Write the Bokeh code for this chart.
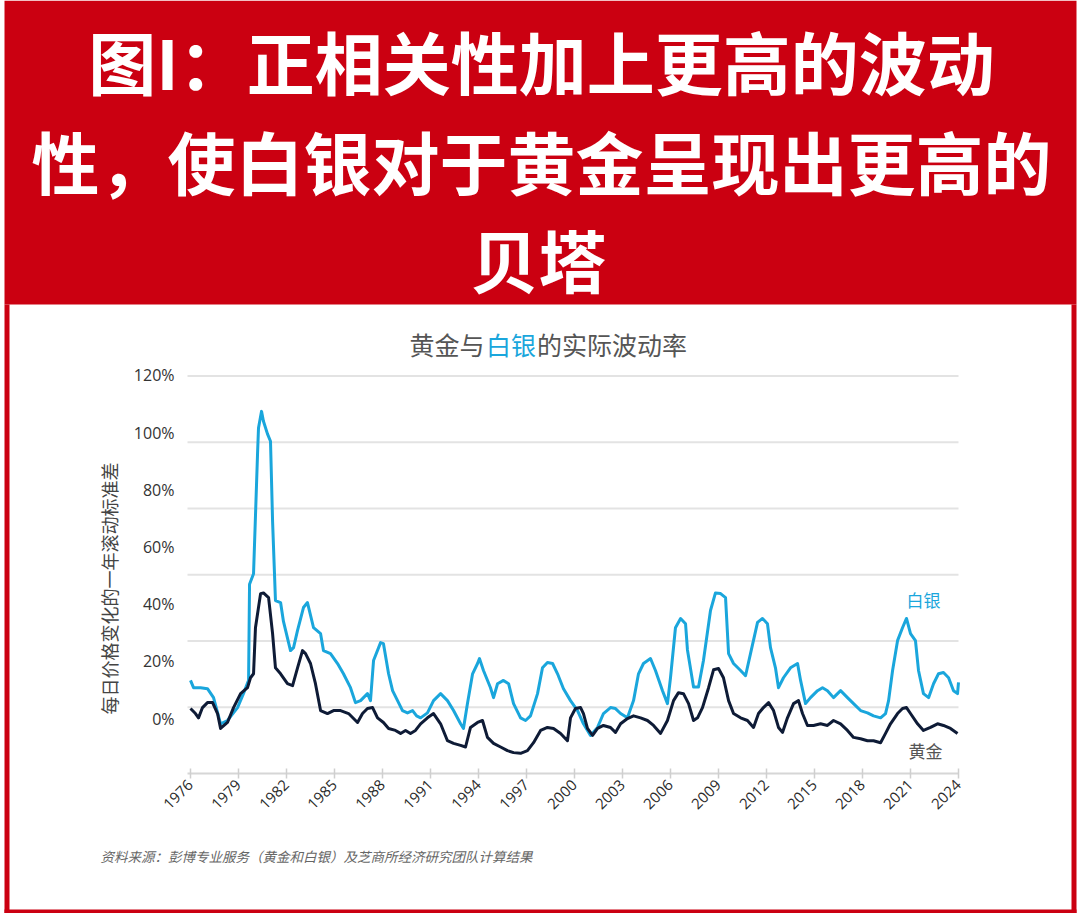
import math
from bokeh.plotting import figure
from bokeh.models import Label, FixedTicker, Range1d, LinearAxis, BoxAnnotation
from bokeh.embed import file_html
from bokeh.resources import INLINE

# ---------------- data ----------------
banner_lines = ["图I：正相关性加上更高的波动", "性，使白银对于黄金呈现出更高的", "贝塔"]
title_parts = ["黄金与", "白银", "的实际波动率"]
y_label = "每日价格变化的一年滚动标准差"
source_note = "资料来源：彭博专业服务（黄金和白银）及芝商所经济研究团队计算结果"
series_names = ["白银", "黄金"]

y_tick_labels = ["0%", "20%", "40%", "60%", "80%", "100%", "120%"]
grid_values = [20, 40, 60, 80, 100, 120]
x_ticks = list(range(1976, 2025, 3))

silver_year = [1976.00, 1976.19, 1976.63, 1977.06, 1977.44, 1977.88, 1978.31, 1978.94, 1979.31, 1979.63,
               1979.69, 1979.94, 1980.19, 1980.25, 1980.44, 1980.56, 1980.81, 1981.00, 1981.13, 1981.31,
               1981.63, 1981.81, 1982.25, 1982.44, 1982.69, 1983.06, 1983.31, 1983.69, 1984.13, 1984.31,
               1984.75, 1985.19, 1985.56, 1986.00, 1986.31, 1986.63, 1987.06, 1987.25, 1987.44, 1987.88,
               1988.06, 1988.38, 1988.63, 1988.94, 1989.25, 1989.56, 1989.88, 1990.13, 1990.38, 1990.81,
               1991.19, 1991.63, 1992.06, 1992.44, 1992.88, 1993.06, 1993.31, 1993.63, 1993.94, 1994.06,
               1994.31, 1994.75, 1994.94, 1995.19, 1995.56, 1995.88, 1996.19, 1996.63, 1996.94, 1997.25,
               1997.69, 1998.00, 1998.31, 1998.63, 1998.94, 1999.31, 1999.75, 2000.19, 2000.56, 2001.00,
               2001.44, 2001.81, 2002.25, 2002.56, 2002.88, 2003.31, 2003.69, 2004.00, 2004.31, 2004.75,
               2005.06, 2005.50, 2005.81, 2006.00, 2006.31, 2006.63, 2006.94, 2007.06, 2007.44, 2007.75,
               2008.06, 2008.50, 2008.81, 2009.13, 2009.44, 2009.63, 2009.94, 2010.38, 2010.69, 2011.00,
               2011.44, 2011.75, 2012.06, 2012.25, 2012.56, 2012.75, 2013.06, 2013.50, 2013.94, 2014.13,
               2014.44, 2014.75, 2015.19, 2015.50, 2015.81, 2016.19, 2016.63, 2017.06, 2017.44, 2017.88,
               2018.31, 2018.69, 2019.13, 2019.44, 2019.63, 2019.88, 2020.19, 2020.50, 2020.75, 2021.00,
               2021.31, 2021.50, 2021.81, 2022.13, 2022.44, 2022.75, 2023.06, 2023.38, 2023.69, 2023.94,
               2024.00]
silver_vol = [28.1, 25.9, 25.9, 25.6, 22.9, 15.0, 16.0, 19.9, 24.1, 28.1,
              57.1, 60.3, 96.5, 104.3, 109.3, 106.3, 102.5, 100.3, 76.1, 52.2,
              51.6, 45.9, 37.1, 38.0, 43.2, 50.1, 51.6, 44.0, 42.2, 37.1,
              36.2, 33.2, 30.1, 25.9, 21.4, 22.0, 24.1, 22.0, 34.1, 39.5,
              39.2, 30.1, 25.0, 22.0, 19.0, 18.3, 19.0, 17.4, 16.8, 18.3,
              22.0, 24.1, 22.0, 19.0, 15.0, 13.6, 21.1, 30.1, 33.2, 34.7,
              31.1, 25.9, 22.9, 27.1, 28.1, 27.1, 21.1, 16.8, 16.0, 17.4,
              24.1, 31.9, 33.5, 33.2, 30.1, 25.6, 22.0, 19.0, 15.0, 11.5,
              13.9, 18.1, 19.9, 19.6, 18.1, 16.8, 22.0, 30.1, 33.2, 34.7,
              31.1, 25.0, 21.1, 28.9, 44.0, 46.8, 45.2, 37.3, 26.1, 26.1,
              34.1, 49.2, 54.5, 54.3, 53.1, 36.2, 33.2, 31.1, 29.5, 36.2,
              45.6, 46.8, 45.2, 38.0, 31.9, 25.9, 28.9, 31.9, 33.2, 28.1,
              21.1, 22.9, 25.0, 25.9, 25.0, 22.9, 25.0, 22.9, 21.1, 19.0,
              18.3, 17.4, 16.8, 18.1, 22.0, 31.1, 40.1, 44.0, 46.8, 42.2,
              40.1, 31.1, 24.1, 22.9, 27.1, 30.1, 30.5, 28.9, 25.0, 24.1,
              27.5]

gold_year = [1976.00, 1976.31, 1976.50, 1976.75, 1977.06, 1977.38, 1977.69, 1977.88, 1978.31, 1978.69,
             1979.13, 1979.56, 1979.75, 1979.94, 1980.06, 1980.38, 1980.56, 1980.88, 1981.13, 1981.31,
             1981.63, 1982.06, 1982.38, 1982.69, 1983.00, 1983.19, 1983.50, 1983.81, 1984.13, 1984.56,
             1984.94, 1985.38, 1985.88, 1986.44, 1986.75, 1987.06, 1987.38, 1987.69, 1988.06, 1988.38,
             1988.81, 1989.13, 1989.44, 1989.75, 1990.06, 1990.38, 1990.81, 1991.19, 1991.63, 1992.06,
             1992.44, 1992.88, 1993.19, 1993.50, 1993.94, 1994.25, 1994.56, 1994.94, 1995.38, 1995.81,
             1996.19, 1996.63, 1997.06, 1997.44, 1997.88, 1998.31, 1998.69, 1999.13, 1999.56, 1999.75,
             2000.06, 2000.38, 2000.56, 2000.81, 2001.13, 2001.44, 2001.81, 2002.25, 2002.56, 2002.88,
             2003.31, 2003.69, 2004.13, 2004.56, 2004.94, 2005.38, 2005.81, 2006.19, 2006.50, 2006.81,
             2007.13, 2007.44, 2007.69, 2008.00, 2008.38, 2008.69, 2009.00, 2009.31, 2009.63, 2009.94,
             2010.38, 2010.81, 2011.19, 2011.50, 2011.81, 2012.13, 2012.44, 2012.75, 2013.00, 2013.31,
             2013.69, 2014.00, 2014.25, 2014.56, 2014.94, 2015.38, 2015.81, 2016.19, 2016.63, 2017.06,
             2017.44, 2017.88, 2018.31, 2018.69, 2019.13, 2019.44, 2019.75, 2020.19, 2020.50, 2020.75,
             2021.00, 2021.44, 2021.81, 2022.25, 2022.69, 2023.06, 2023.50, 2023.94]
gold_vol = [19.6, 18.1, 16.8, 19.9, 21.4, 21.4, 18.1, 13.6, 15.4, 19.9,
            24.1, 25.9, 28.9, 30.1, 44.0, 54.3, 54.5, 53.1, 42.2, 31.9,
            30.1, 27.1, 26.5, 31.9, 37.1, 36.2, 33.2, 27.1, 19.0, 18.1,
            19.0, 19.0, 18.1, 15.4, 18.1, 19.6, 19.9, 16.8, 15.4, 13.6,
            13.0, 12.1, 13.0, 12.1, 13.0, 15.0, 16.8, 18.1, 15.0, 9.9,
            9.1, 8.5, 8.0, 13.9, 15.4, 16.0, 10.9, 9.1, 8.0, 6.9,
            6.3, 6.1, 6.9, 9.3, 13.0, 13.9, 13.6, 12.1, 9.9, 16.8,
            19.6, 19.9, 18.1, 13.6, 11.5, 13.6, 14.5, 13.9, 12.4, 15.0,
            16.6, 17.4, 16.8, 16.0, 14.5, 12.1, 16.0, 22.0, 24.4, 24.1,
            21.1, 16.0, 16.8, 19.9, 25.9, 31.3, 31.7, 28.9, 22.0, 18.1,
            16.8, 16.0, 13.9, 18.1, 19.9, 21.4, 19.0, 13.9, 12.4, 16.8,
            21.1, 22.0, 18.1, 14.5, 14.5, 15.0, 14.5, 16.0, 15.0, 13.0,
            10.9, 10.5, 9.9, 9.9, 9.3, 12.1, 15.0, 18.1, 19.6, 19.9,
            18.1, 15.0, 13.0, 13.9, 15.0, 14.5, 13.6, 12.1]

# ---------------- layout geometry (reference pixels) ----------------
X_1976, PX_PER_YEAR = 190.0, 16.0      # x pixel of 1976 and pixels per year
Y_ZERO, PX_PER_PCT = 773.0, 3.313      # y pixel of 0 % and pixels per percent
W, H = 1078, 913


def yr(px):
    return 1976 + (px - X_1976) / PX_PER_YEAR


def pct(py):
    return (Y_ZERO - py) / PX_PER_PCT


# y tick labels sit on their own evenly spaced rows (as in the reference)
label_top_px, label_bottom_px = 375.0, 718.0
y_label_pos = [round(pct(label_bottom_px - i * (label_bottom_px - label_top_px) / 6), 3)
               for i in range(len(y_tick_labels))]

RED = "#CB0011"
SILVER = "#1AA6DC"
GOLD = "#0E1B36"
CJK = "Noto Sans CJK SC"

p = figure(width=W, height=H,
           x_range=Range1d(yr(0), yr(W)), y_range=Range1d(pct(H), pct(0)),
           toolbar_location=None, output_backend="svg", title=None, min_border=0,
           x_axis_location=None, y_axis_location=None,
           background_fill_color="white", border_fill_color="white", outline_line_color=None)
p.grid.visible = False

# red banner and frame
for kw in [dict(left=yr(4), right=yr(1076), bottom=pct(304)),
           dict(left=yr(4), right=yr(9), top=pct(304), bottom=pct(913)),
           dict(left=yr(1071), right=yr(1076), top=pct(304), bottom=pct(913)),
           dict(left=yr(4), right=yr(1076), top=pct(909), bottom=pct(913))]:
    p.add_layout(BoxAnnotation(fill_color=RED, fill_alpha=1.0, line_color=None, level="underlay", **kw))

# horizontal grid lines limited to the plotting area
grid_left, grid_right = yr(187), yr(958)
p.segment(x0=[grid_left] * len(grid_values), y0=grid_values,
          x1=[grid_right] * len(grid_values), y1=grid_values,
          line_color="#E3E3E3", line_width=2)

# series
p.line(silver_year, silver_vol, line_color=SILVER, line_width=3, line_join="round")
p.line(gold_year, gold_vol, line_color=GOLD, line_width=3, line_join="round")

# x axis
xaxis = LinearAxis(fixed_location=0, ticker=FixedTicker(ticks=x_ticks), bounds=(grid_left, grid_right))
xaxis.major_label_orientation = math.pi / 4
xaxis.axis_line_color = "#D6D6D6"
xaxis.axis_line_width = 2
xaxis.major_tick_in = 5
xaxis.major_tick_out = 5
xaxis.major_tick_line_color = "#CFCFCF"
xaxis.major_tick_line_width = 1.5
xaxis.minor_tick_line_color = None
xaxis.major_label_standoff = 4
xaxis.major_label_text_font = "Open Sans"
xaxis.major_label_text_font_size = "15px"
xaxis.major_label_text_color = "#2B2B2B"
p.add_layout(xaxis, "below")

# y axis (labels only)
yaxis = LinearAxis(fixed_location=yr(188), ticker=FixedTicker(ticks=y_label_pos))
yaxis.major_label_overrides = {pos: lab for pos, lab in zip(y_label_pos, y_tick_labels)}
yaxis.axis_line_color = None
yaxis.major_tick_line_color = None
yaxis.minor_tick_line_color = None
yaxis.major_label_standoff = 8
yaxis.major_label_text_font = "Open Sans"
yaxis.major_label_text_font_size = "16px"
yaxis.major_label_text_color = "#333333"
p.add_layout(yaxis, "left")

# banner text
for txt, cx, cy in zip(banner_lines, [541, 541, 538], [60, 160, 258]):
    p.add_layout(Label(x=yr(cx), y=pct(cy), text=txt, text_align="center", text_baseline="middle",
                       text_color="white", text_font=CJK, text_font_style="bold",
                       text_font_size="68px"))

# chart title (three coloured parts)
tx = 409.0
for part, col in zip(title_parts, ["#555555", SILVER, "#555555"]):
    p.add_layout(Label(x=yr(tx), y=pct(343), text=part, text_align="left", text_baseline="middle",
                       text_color=col, text_font=CJK, text_font_size="25px"))
    tx += 25.5 * len(part)

# y-axis title
p.add_layout(Label(x=yr(108), y=pct(588), text=y_label, angle=math.pi / 2,
                   text_align="center", text_baseline="middle",
                   text_color="#444444", text_font=CJK, text_font_size="18px"))

# series labels
p.add_layout(Label(x=yr(923), y=pct(599), text=series_names[0], text_align="center",
                   text_baseline="middle", text_color=SILVER, text_font=CJK, text_font_size="17px"))
p.add_layout(Label(x=yr(925), y=pct(750), text=series_names[1], text_align="center",
                   text_baseline="middle", text_color="#555555", text_font=CJK, text_font_size="17px"))

# source note
p.add_layout(Label(x=yr(100), y=pct(855), text=source_note, text_align="left", text_baseline="middle",
                   text_color="#666666", text_font=CJK, text_font_style="italic",
                   text_font_size="13.5px"))

open("out.html", "w").write(file_html(p, INLINE))
